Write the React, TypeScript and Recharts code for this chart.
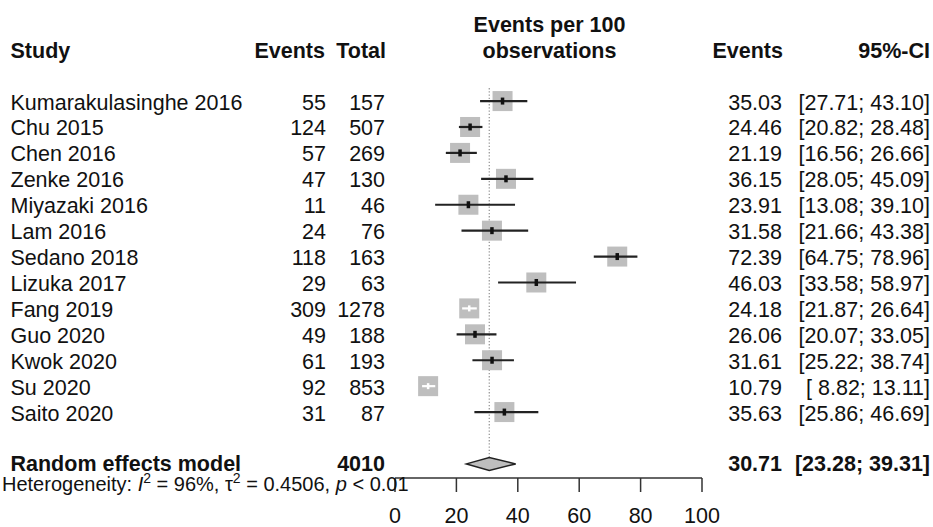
import React from 'react';
import { ScatterChart, Scatter, XAxis, YAxis } from 'recharts';

// ---- data ----
const studies = [
  'Kumarakulasinghe 2016', 'Chu 2015', 'Chen 2016', 'Zenke 2016', 'Miyazaki 2016', 'Lam 2016',
  'Sedano 2018', 'Lizuka 2017', 'Fang 2019', 'Guo 2020', 'Kwok 2020', 'Su 2020', 'Saito 2020',
];
const events = [55, 124, 57, 47, 11, 24, 118, 29, 309, 49, 61, 92, 31];
const totals = [157, 507, 269, 130, 46, 76, 163, 63, 1278, 188, 193, 853, 87];
const estimates = [35.03, 24.46, 21.19, 36.15, 23.91, 31.58, 72.39, 46.03, 24.18, 26.06, 31.61, 10.79, 35.63];
const lowers = [27.71, 20.82, 16.56, 28.05, 13.08, 21.66, 64.75, 33.58, 21.87, 20.07, 25.22, 8.82, 25.86];
const uppers = [43.10, 28.48, 26.66, 45.09, 39.10, 43.38, 78.96, 58.97, 26.64, 33.05, 38.74, 13.11, 46.69];

const pooledLabel = 'Random effects model';
const pooledTotal = 4010;
const pooledEstimate = 30.71;
const pooledLower = 23.28;
const pooledUpper = 39.31;

const hetI2 = '96%';
const hetTau2 = '0.4506';
const hetP = '< 0.01';

const xTicks = [0, 20, 40, 60, 80, 100];

// ---- layout ----
const W = 933;
const H = 527;
const M_LEFT = 395;
const M_RIGHT = 231;
const X_AXIS_H = 49;
const Y_DOMAIN: [number, number] = [-3.9, 14.544];
const SUMMARY_ROW = 14;
const SQUARE = 20;
const PLOT_W = W - M_LEFT - M_RIGHT;
const SQUARE_UNITS = (SQUARE / PLOT_W) * 100;
const DIAMOND_HALF = 0.25;

const FONT = '"Liberation Sans", Arial, Helvetica, sans-serif';
const FS = 21.5;
const TXT = '#111';
const GREY = '#bebebe';
const LINE = '#222';

const COL_STUDY = 10.5;
const COL_EVENTS = 326;
const COL_TOTAL = 385;
const COL_MID = 549.5;
const COL_EST = 782;
const COL_CI = 930;

const fmtCI = (lo: number, hi: number) =>
  `[${lo.toFixed(2).padStart(5, ' ')}; ${hi.toFixed(2).padStart(5, ' ')}]`;

// ---- derived series ----
const studyRows = studies.map((name, i) => ({
  x: estimates[i],
  y: i,
  inside: uppers[i] - lowers[i] < SQUARE_UNITS,
}));

const refLine = [
  { x: pooledEstimate, y: -0.5 },
  { x: pooledEstimate, y: SUMMARY_ROW - 0.28 },
];

const diamond = [
  { x: pooledLower, y: SUMMARY_ROW },
  { x: pooledEstimate, y: SUMMARY_ROW - DIAMOND_HALF },
  { x: pooledUpper, y: SUMMARY_ROW },
  { x: pooledEstimate, y: SUMMARY_ROW + DIAMOND_HALF },
];

type TextRow = { x: number; y: number; kind: string; i?: number };
const textRows: TextRow[] = [
  { x: 0, y: -3, kind: 'header1' },
  { x: 0, y: -2, kind: 'header2' },
  ...studies.map((_, i) => ({ x: 0, y: i, kind: 'study', i })),
  { x: 0, y: SUMMARY_ROW, kind: 'summary' },
  { x: 0, y: 14.5, kind: 'het' },
];

const Empty = () => <g />;

const Square = (p: any) => (
  <rect x={p.cx - SQUARE / 2} y={p.cy - SQUARE / 2} width={SQUARE} height={SQUARE} fill={GREY} />
);

const Mark = (p: any) =>
  p.payload.inside ? (
    <rect x={p.cx - 1.25} y={p.cy - 3} width={2.5} height={6} fill="#fff" />
  ) : (
    <rect x={p.cx - 1.75} y={p.cy - 3.5} width={3.5} height={7} fill="#111" />
  );

const T = (props: any) => (
  <text fontFamily={FONT} fontSize={FS} fill={TXT} {...props} />
);

const TextShape = (p: any) => {
  const cy: number = p.cy;
  const row: TextRow = p.payload;
  const by = cy + 8.5;
  if (row.kind === 'header1') {
    return (
      <g>
        <T x={COL_MID} y={by} textAnchor="middle" fontWeight="bold">Events per 100</T>
      </g>
    );
  }
  if (row.kind === 'header2') {
    return (
      <g>
        <T x={COL_STUDY} y={by} fontWeight="bold">Study</T>
        <T x={COL_EVENTS - 1} y={by} textAnchor="end" fontWeight="bold">Events</T>
        <T x={COL_TOTAL + 1} y={by} textAnchor="end" fontWeight="bold">Total</T>
        <T x={COL_MID} y={by} textAnchor="middle" fontWeight="bold">observations</T>
        <T x={COL_EST + 1} y={by} textAnchor="end" fontWeight="bold">Events</T>
        <T x={COL_CI} y={by} textAnchor="end" fontWeight="bold">95%-CI</T>
      </g>
    );
  }
  if (row.kind === 'study') {
    const i = row.i as number;
    return (
      <g>
        <T x={COL_STUDY} y={by}>{studies[i]}</T>
        <T x={COL_EVENTS} y={by} textAnchor="end">{events[i]}</T>
        <T x={COL_TOTAL} y={by} textAnchor="end">{totals[i]}</T>
        <T x={COL_EST} y={by} textAnchor="end">{estimates[i].toFixed(2)}</T>
        <T x={COL_CI} y={by} textAnchor="end" style={{ whiteSpace: 'pre' }}>{fmtCI(lowers[i], uppers[i])}</T>
      </g>
    );
  }
  if (row.kind === 'summary') {
    return (
      <g>
        <T x={COL_STUDY} y={by - 1} fontWeight="bold">{pooledLabel}</T>
        <T x={COL_TOTAL} y={by - 1} textAnchor="end" fontWeight="bold">{pooledTotal}</T>
        <T x={COL_EST} y={by - 1} textAnchor="end" fontWeight="bold">{pooledEstimate.toFixed(2)}</T>
        <T x={COL_CI} y={by - 1} textAnchor="end" fontWeight="bold">{fmtCI(pooledLower, pooledUpper)}</T>
      </g>
    );
  }
  // heterogeneity
  return (
    <text x={2} y={cy + 14} fontFamily={FONT} fontSize={20} fill={TXT}>
      {'Heterogeneity: '}
      <tspan fontStyle="italic">I</tspan>
      <tspan dy={-8} fontSize={14}>2</tspan>
      <tspan dy={8}>{` = ${hetI2}, \u03C4`}</tspan>
      <tspan dy={-8} fontSize={14}>2</tspan>
      <tspan dy={8}>{` = ${hetTau2}, `}</tspan>
      <tspan fontStyle="italic">p</tspan>
      <tspan>{` ${hetP}`}</tspan>
    </text>
  );
};

export default function App() {
  return (
    <div style={{ position: 'absolute', left: 0, top: 0, width: W, height: H, background: '#fff' }}>
      <ScatterChart width={W} height={H} margin={{ top: 0, right: M_RIGHT, bottom: 0, left: M_LEFT }}>
        <XAxis
          type="number"
          dataKey="x"
          domain={[0, 100]}
          ticks={xTicks}
          interval={0}
          tickSize={14}
          tickMargin={16}
          height={X_AXIS_H}
          axisLine={{ stroke: '#333', strokeWidth: 1.5 }}
          tickLine={{ stroke: '#333', strokeWidth: 1.5 }}
          tick={{ fill: TXT, fontSize: FS, fontFamily: FONT }}
        />
        <YAxis type="number" dataKey="y" domain={Y_DOMAIN} reversed hide />
        <Scatter
          data={refLine}
          shape={Empty}
          line={{ stroke: '#9a9a9a', strokeWidth: 1.3, strokeDasharray: '1.3 1.9' }}
          isAnimationActive={false}
        />
        <Scatter data={studyRows} shape={Square} isAnimationActive={false} />
        {studyRows.map((r, i) => (
          <Scatter
            key={`ci-${i}`}
            data={[
              { x: lowers[i], y: i },
              { x: uppers[i], y: i },
            ]}
            shape={Empty}
            line={{ stroke: r.inside ? '#fff' : LINE, strokeWidth: 2.2 }}
            isAnimationActive={false}
          />
        ))}
        <Scatter data={studyRows} shape={Mark} isAnimationActive={false} />
        <Scatter
          data={diamond}
          shape={Empty}
          line={{ fill: GREY, stroke: LINE, strokeWidth: 1.5 }}
          lineJointType="linearClosed"
          isAnimationActive={false}
        />
        <Scatter data={textRows} shape={TextShape} isAnimationActive={false} />
      </ScatterChart>
    </div>
  );
}
